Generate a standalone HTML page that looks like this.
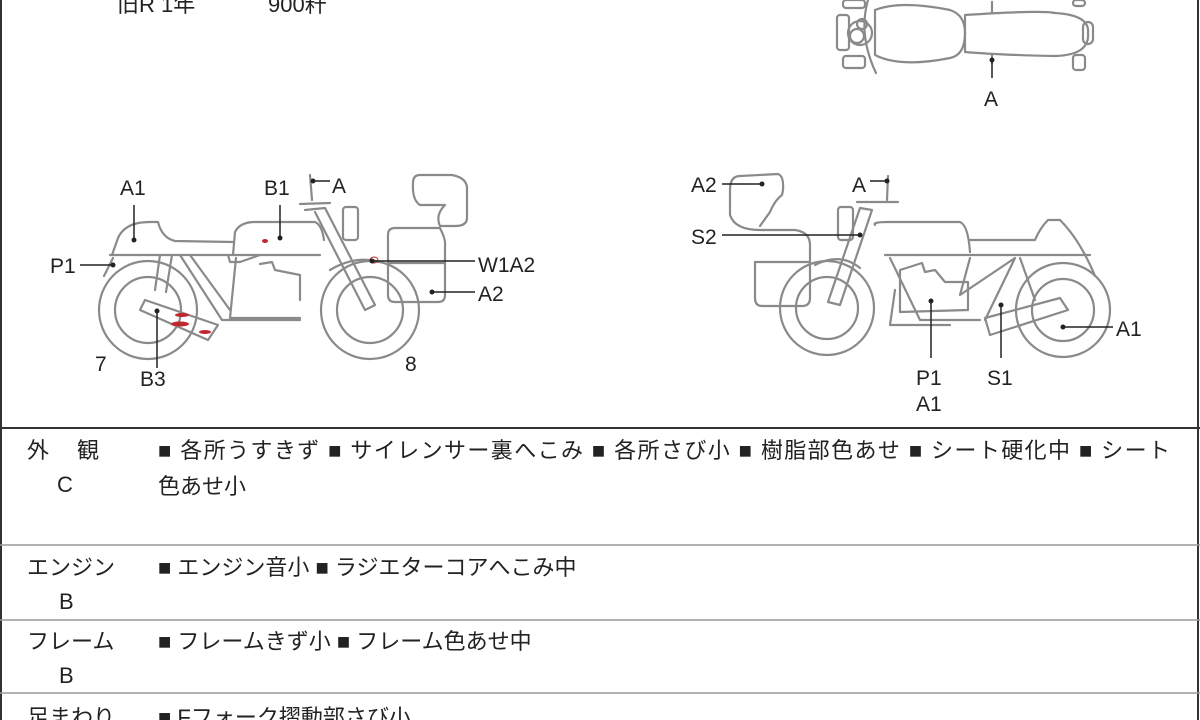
<!DOCTYPE html>
<html><head><meta charset="utf-8"><style>
html,body{margin:0;padding:0;background:#fff;width:1200px;height:720px;overflow:hidden}
svg{display:block}
text{font-family:"Liberation Sans","Noto Sans CJK JP",sans-serif;fill:#222}
.t{font-size:22px}
.l{font-size:21px}
.g{fill:none;stroke:#8a8a8a;stroke-width:2.2;stroke-linejoin:round;stroke-linecap:round}
.k{stroke:#222;stroke-width:1.5}
</style></head><body>
<svg width="1200" height="720" viewBox="0 0 1200 720">
<rect x="1" y="-5" width="1197" height="740" fill="none" stroke="#333" stroke-width="2"/>
<text class="t" x="117" y="12">旧R  1年</text><text class="t" x="268" y="12">900粁</text>

<!-- top view -->
<g class="g">
<rect x="837" y="15" width="12" height="35" rx="3"/>
<rect x="843" y="0" width="22" height="8" rx="3"/><rect x="843" y="56" width="22" height="12" rx="3"/>
<circle cx="860" cy="33" r="12"/><circle cx="857" cy="36" r="7"/><circle cx="862" cy="24" r="5"/>
<path d="M868 0 Q858 35 876 73"/>
<path d="M875 10 Q900 0 950 10 Q965 15 965 33 Q965 55 950 58 Q900 68 875 55 Z"/>
<path d="M965 15 Q1040 10 1055 13 Q1090 15 1088 33 Q1090 55 1055 56 Q1000 55 965 52 Z"/>
<rect x="1083" y="22" width="10" height="22" rx="5"/>
<rect x="1073" y="55" width="12" height="15" rx="3"/><rect x="1073" y="0" width="12" height="6" rx="3"/>
<line x1="992" y1="2" x2="992" y2="12"/><line x1="992" y1="55" x2="992" y2="63"/>
</g>
<circle cx="992" cy="60" r="2.5" fill="#222"/><line class="k" x1="992" y1="60" x2="992" y2="78"/>
<text class="l" x="984" y="106">A</text>

<!-- left bike -->
<g class="g">
<circle cx="148" cy="310" r="49"/><circle cx="148" cy="310" r="33"/>
<circle cx="370" cy="310" r="49"/><circle cx="370" cy="310" r="33"/>
<path d="M112 255 L118 238 Q125 222 150 222 L158 222 Q162 238 175 241 L233 242"/>
<path d="M110 255 L320 255"/>
<path d="M233 255 L235 232 Q240 222 255 222 L315 222 Q322 225 324 240"/>
<path d="M113 258 L104 276"/>
<path d="M160 255 L155 290 M172 255 L166 292"/>
<path d="M180 255 L222 320 L300 320 M190 255 L230 310"/>
<path d="M228 255 L230 262 L240 262 L260 255"/>
<path d="M236 258 L230 318 L300 318"/>
<path d="M260 264 L272 262 L275 270 L300 275 L300 300"/>
<path d="M305 210 L325 208 L375 305 L365 310 L315 212"/>
<path d="M300 204 L330 203"/><path d="M310 175 L312 200"/>
<rect x="343" y="207" width="15" height="33" rx="3"/>
<path d="M330 270 Q355 255 380 262"/>
<path d="M140 310 L208 340 L218 325 L145 300 Z"/>
<path d="M413 183 Q413 175 420 175 L452 175 Q468 178 467 190 L467 218 Q467 226 455 226 L440 226 Q435 215 445 205 L420 205 Q412 200 413 183 Z"/>
<path d="M395 228 L440 228 Q446 240 445 245 L445 295 Q445 302 438 302 L395 302 Q388 302 388 295 L388 235 Q388 228 395 228 Z"/>
<path d="M388 263 L445 263"/>
</g>
<g fill="#c0282d">
<ellipse cx="265" cy="241" rx="3" ry="2"/><ellipse cx="182" cy="315" rx="7" ry="2"/>
<ellipse cx="180" cy="324" rx="9" ry="2.5"/><ellipse cx="205" cy="332" rx="6" ry="2"/>
<ellipse cx="374" cy="260" rx="4" ry="3" fill="none" stroke="#c0282d"/>
</g>
<g fill="#222">
<circle cx="134" cy="240" r="2.5"/><circle cx="280" cy="238" r="2.5"/><circle cx="313" cy="181" r="2.5"/>
<circle cx="113" cy="265" r="2.5"/><circle cx="157" cy="311" r="2.5"/><circle cx="372" cy="261" r="2.5"/><circle cx="432" cy="292" r="2.5"/>
</g>
<g class="k">
<line x1="134" y1="240" x2="134" y2="205"/><line x1="280" y1="238" x2="280" y2="205"/>
<line x1="313" y1="181" x2="330" y2="181"/><line x1="80" y1="265" x2="113" y2="265"/>
<line x1="157" y1="311" x2="157" y2="368"/><line x1="372" y1="261" x2="475" y2="261"/>
<line x1="432" y1="292" x2="475" y2="292"/>
</g>
<text class="l" x="120" y="195">A1</text><text class="l" x="264" y="195">B1</text><text class="l" x="332" y="193">A</text>
<text class="l" x="50" y="273">P1</text><text class="l" x="478" y="272">W1A2</text><text class="l" x="478" y="301">A2</text>
<text class="l" x="95" y="371">7</text><text class="l" x="140" y="386">B3</text><text class="l" x="405" y="371">8</text>

<!-- right bike -->
<g class="g">
<circle cx="827" cy="308" r="47"/><circle cx="827" cy="308" r="31"/>
<circle cx="1063" cy="310" r="47"/><circle cx="1063" cy="310" r="31"/>
<path d="M730 190 Q730 176 740 176 L778 174 Q784 176 783 190 L782 195 Q775 200 770 212 L760 226"/>
<path d="M730 190 L730 215 Q735 230 760 230 L795 230 Q810 232 810 245 L810 298 Q810 306 802 306 L762 306 Q755 306 755 298 L755 262"/>
<path d="M755 262 L810 262"/>
<path d="M840 305 L872 210 L860 208 L828 302 Z"/>
<path d="M857 202 L898 202"/><path d="M888 176 L887 200"/>
<rect x="838" y="207" width="15" height="33" rx="3"/>
<path d="M875 225 Q872 222 888 222 L960 222 Q968 225 970 252"/>
<path d="M885 255 L1090 255"/>
<path d="M970 240 L1035 240 Q1040 228 1048 220 L1060 220 Q1080 240 1095 276"/>
<path d="M890 258 L920 320 L980 320 M970 258 L960 295 L1015 258 L985 320"/>
<path d="M900 270 L922 263 L925 272 L935 270 L945 282 L968 282 L968 310 L900 312 Z"/>
<path d="M895 290 L890 325 L950 325"/>
<path d="M985 318 L1060 298 L1068 310 L990 335 Z"/>
<path d="M1020 258 L1035 300"/>
<path d="M815 265 Q840 252 860 268"/>
</g>
<g fill="#222">
<circle cx="762" cy="184" r="2.5"/><circle cx="887" cy="181" r="2.5"/><circle cx="860" cy="235" r="2.5"/>
<circle cx="931" cy="301" r="2.5"/><circle cx="1001" cy="305" r="2.5"/><circle cx="1063" cy="327" r="2.5"/>
</g>
<g class="k">
<line x1="722" y1="184" x2="762" y2="184"/><line x1="870" y1="181" x2="887" y2="181"/>
<line x1="722" y1="235" x2="860" y2="235"/><line x1="931" y1="301" x2="931" y2="358"/>
<line x1="1001" y1="305" x2="1001" y2="358"/><line x1="1063" y1="327" x2="1113" y2="327"/>
</g>
<text class="l" x="691" y="192">A2</text><text class="l" x="852" y="192">A</text>
<text class="l" x="691" y="244">S2</text><text class="l" x="1116" y="336">A1</text>
<text class="l" x="916" y="385">P1</text><text class="l" x="916" y="411">A1</text><text class="l" x="987" y="385">S1</text>

<!-- table -->
<line x1="0" y1="428" x2="1200" y2="428" stroke="#333" stroke-width="2"/>
<line x1="0" y1="545" x2="1200" y2="545" stroke="#999" stroke-width="1.5"/>
<line x1="0" y1="620" x2="1200" y2="620" stroke="#999" stroke-width="1.5"/>
<line x1="0" y1="693" x2="1200" y2="693" stroke="#999" stroke-width="1.5"/>
<text class="t" x="27" y="458">外</text><text class="t" x="77" y="458">観</text>
<text class="t" x="57" y="492">C</text>
<text class="t" x="158" y="458" textLength="1012" lengthAdjust="spacing">■ 各所うすきず ■ サイレンサー裏へこみ ■ 各所さび小 ■ 樹脂部色あせ ■ シート硬化中 ■ シート</text>
<text class="t" x="158" y="494">色あせ小</text>
<text class="t" x="27" y="575">エンジン</text><text class="t" x="59" y="609">B</text>
<text class="t" x="158" y="575">■ エンジン音小 ■ ラジエターコアへこみ中</text>
<text class="t" x="27" y="649">フレーム</text><text class="t" x="59" y="683">B</text>
<text class="t" x="158" y="649">■ フレームきず小 ■ フレーム色あせ中</text>
<text class="t" x="27" y="725">足まわり</text>
<text class="t" x="158" y="725">■ Fフォーク摺動部さび小</text>
</svg>
</body></html>
